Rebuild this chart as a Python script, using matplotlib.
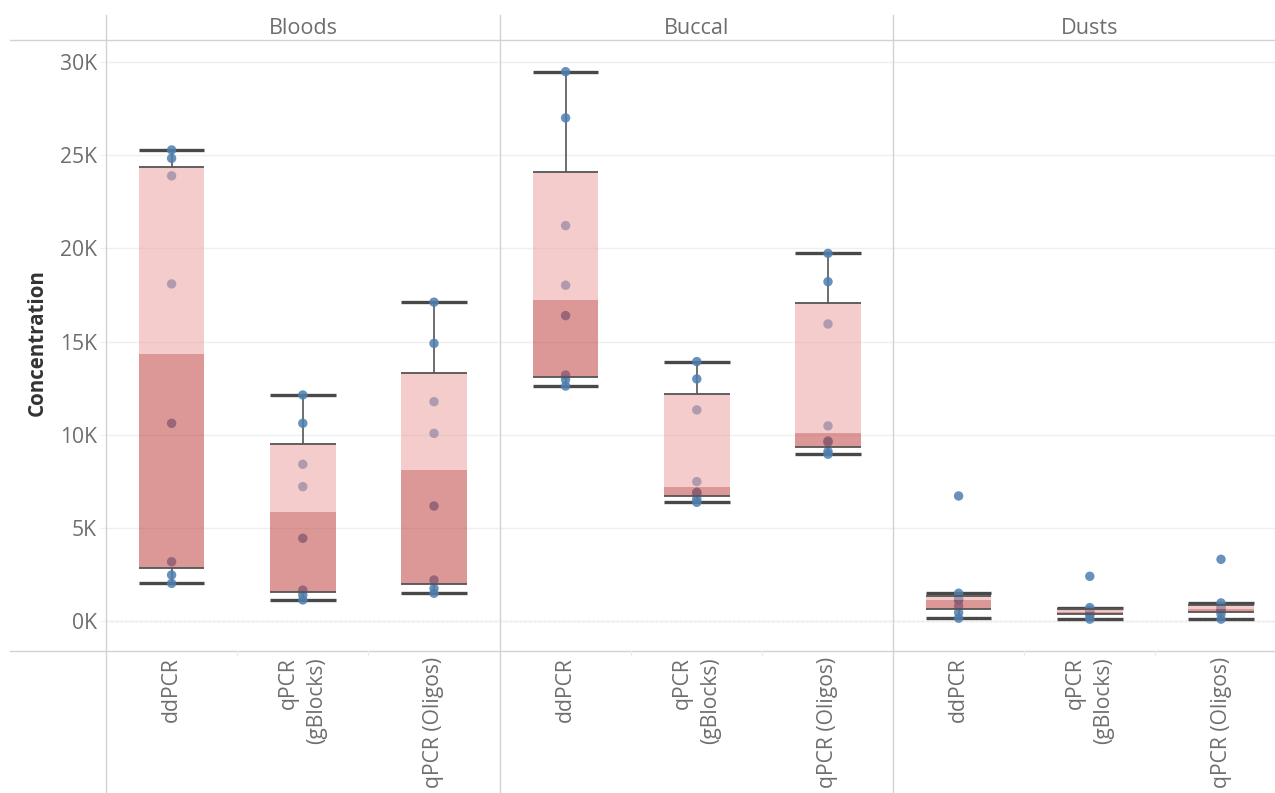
import numpy as np
import matplotlib
matplotlib.use("Agg")
import matplotlib.pyplot as plt
from matplotlib.lines import Line2D
from matplotlib.patches import Rectangle
import matplotlib.transforms as mtransforms

plt.rcParams['font.family'] = ['Open Sans', 'DejaVu Sans']

# ---- data -----------------------------------------------------------------
sample_types = ["Bloods", "Buccal", "Dusts"]
methods = ["ddPCR", "qPCR\n(gBlocks)", "qPCR (Oligos)"]

bloods_ddpcr = [2020, 2470, 3180, 10610, 18090, 23890, 24830, 25280]
bloods_gblocks = [1130, 1400, 1660, 4440, 7210, 8410, 10610, 12130]
bloods_oligos = [1490, 1750, 2200, 6170, 10070, 11770, 14900, 17110]

buccal_ddpcr = [12610, 12950, 13200, 16390, 18020, 21220, 27000, 29480]
buccal_gblocks = [6370, 6550, 6870, 6910, 7480, 11330, 12990, 13920]
buccal_oligos = [8950, 9100, 9600, 9660, 10470, 15940, 18210, 19730]

dusts_ddpcr = [150, 450, 810, 1110, 1150, 1190, 1490, 6710]
dusts_gblocks = [100, 300, 420, 470, 530, 560, 720, 2400]
dusts_oligos = [100, 380, 600, 630, 690, 780, 970, 3310]

y_ticks = [0, 5000, 10000, 15000, 20000, 25000, 30000]
y_tick_labels = ["0K", "5K", "10K", "15K", "20K", "25K", "30K"]

panels = [
    [bloods_ddpcr, bloods_gblocks, bloods_oligos],
    [buccal_ddpcr, buccal_gblocks, buccal_oligos],
    [dusts_ddpcr, dusts_gblocks, dusts_oligos],
]

# ---- styling ----------------------------------------------------------------
W, H = 1275, 793
POINT_COLOR = "#4e7fb0"
BOX_LIGHT = "#eba3a3"
BOX_DARK = "#c04242"
BOX_ALPHA = 0.55
LINE_GRAY = "#d2d2d2"
TEXT_GRAY = "#6e6e6e"
WHISKER = "#555555"


def hinges(values):
    v = np.sort(np.asarray(values, dtype=float))
    n = len(v)
    h = (n + 1) // 2
    return np.median(v[:h]), np.median(v), np.median(v[n - h:])


def whiskers(values, q1, q3):
    v = np.asarray(values, dtype=float)
    iqr = q3 - q1
    lo = v[v >= q1 - 1.5 * iqr].min()
    hi = v[v <= q3 + 1.5 * iqr].max()
    return lo, hi


fig = plt.figure(figsize=(W / 100, H / 100), dpi=100)

plot_top, plot_bottom = 40, 651
panel_left = [106, 500, 893]
panel_right = [500, 893, 1275]
cat_px = 131.2
y_lo = -(plot_bottom - 621) / ((621 - 62) / 30000)
y_hi = 30000 + (62 - plot_top) / ((621 - 62) / 30000)

axes = []
for i, (left, right) in enumerate(zip(panel_left, panel_right)):
    ax = fig.add_axes([left / W, 1 - plot_bottom / H, (right - left) / W,
                       (plot_bottom - plot_top) / H])
    ax.set_xlim(-0.5, -0.5 + (right - left) / cat_px)
    ax.set_ylim(y_lo, y_hi)
    for s in ax.spines.values():
        s.set_visible(False)
    ax.set_facecolor("none")
    ax.set_xticks([])
    ax.set_yticks(y_ticks)
    ax.yaxis.grid(True, color="#efefef", lw=1, zorder=0)
    ax.set_axisbelow(True)
    if i == 0:
        ax.set_yticklabels(y_tick_labels)
        ax.tick_params(axis="y", length=4.3, color="#efefef", pad=2.2,
                       labelsize=15.2, labelcolor=TEXT_GRAY)
    else:
        ax.tick_params(axis="y", length=0, labelleft=False)
    ax.axhline(0, color="#b5b5b5", lw=1, ls=(0, (1, 2.5)), zorder=0.5)

    for j, vals in enumerate(panels[i]):
        q1, med, q3 = hinges(vals)
        lo, hi = whiskers(vals, q1, q3)
        hw = 0.25
        # whiskers and caps
        ax.vlines(j, lo, q1, color=WHISKER, lw=1.2, zorder=1)
        ax.vlines(j, q3, hi, color=WHISKER, lw=1.2, zorder=1)
        ax.hlines([lo, hi], j - hw, j + hw, color="#484848", lw=2.4, zorder=1)
        # observations
        ax.scatter(np.full(len(vals), j), vals, s=46, color=POINT_COLOR,
                   alpha=0.85, edgecolors="none", zorder=2)
        # box halves
        ax.add_patch(Rectangle((j - hw, q1), 2 * hw, med - q1, facecolor=BOX_DARK,
                               alpha=BOX_ALPHA, edgecolor="none", zorder=3))
        ax.add_patch(Rectangle((j - hw, med), 2 * hw, q3 - med, facecolor=BOX_LIGHT,
                               alpha=BOX_ALPHA, edgecolor="none", zorder=3))
        ax.hlines([q1, q3], j - hw, j + hw, color=WHISKER, lw=1.3, zorder=4)

        # category label below the panel
        tr = mtransforms.blended_transform_factory(ax.transData, fig.transFigure)
        ax.text(j, 1 - 657 / H, methods[j], transform=tr, rotation=90,
                ha="center", va="top", multialignment="right",
                fontsize=15.2, color=TEXT_GRAY, linespacing=1.45)

    # sample type header
    fig.text((left + (panel_right[i] if i < 2 else 1286)) / 2 / W, 1 - 28 / H,
             sample_types[i], ha="center", va="center", fontsize=15.6,
             color=TEXT_GRAY)
    axes.append(ax)

# frame lines of the table layout
def fig_line(x0, y0, x1, y1, **kw):
    fig.add_artist(Line2D([x0 / W, x1 / W], [1 - y0 / H, 1 - y1 / H],
                          transform=fig.transFigure, **kw))

fig_line(10, plot_top, W, plot_top, color=LINE_GRAY, lw=1)
fig_line(10, plot_bottom, W, plot_bottom, color=LINE_GRAY, lw=1)
for x in panel_left:
    fig_line(x, 15, x, H, color=LINE_GRAY, lw=1)
for left in panel_left:
    for k in (1, 2):
        xs = left + k * cat_px
        fig_line(xs, plot_bottom, xs, plot_bottom + 4, color="#ececec", lw=1)

fig.text(37 / W, 1 - 343 / H, "Concentration", rotation=90, ha="center",
         va="center", fontsize=14.8, fontweight="bold", color="#333333")

fig.savefig("out.png", dpi=100)
